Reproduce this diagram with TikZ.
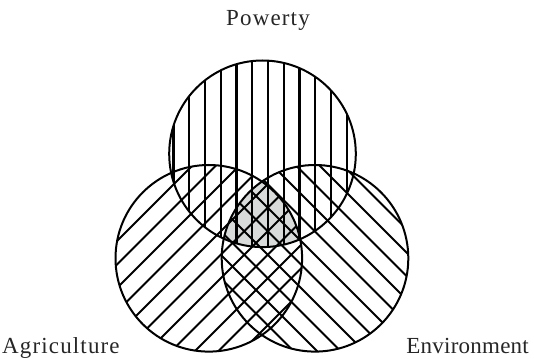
\documentclass[tikz,border=0pt]{standalone}
\usepackage{fontspec}
\setmainfont{Liberation Serif}
\newfontfamily\lblfontA[LetterSpace=5]{Liberation Serif}
\newfontfamily\lblfontE[LetterSpace=1]{Liberation Serif}
\newfontfamily\lblfontP[LetterSpace=5]{Liberation Serif}
\definecolor{coregray}{HTML}{D9DBDB}
\tikzset{
  ring/.style={draw=black, line width=2pt},
  hatchline/.style={draw=black, line width=2pt},
  vhatch/.style={draw=black, line width=2.4pt},
  lbl/.style={font=\fontsize{23}{27}\selectfont, inner sep=0pt, text=black!85}
}
\begin{document}
\begin{tikzpicture}[x=1pt,y=1pt]
\useasboundingbox (0,0) rectangle (534,358);
\def\R{93.3}
\coordinate (P) at (262.5,204.2);
\coordinate (A) at (208.8,99.7);
\coordinate (E) at (315,99.7);
% core
\begin{scope}
  \clip (P) circle (\R);
  \clip (A) circle (\R);
  \clip (E) circle (\R);
  \fill[coregray] (0,0) rectangle (534,358);
\end{scope}
% vertical hatch in Powerty
\begin{scope}
  \clip (P) circle (\R);
  \foreach \k in {0,...,11}
    \draw[vhatch] ({173.5+15.75*\k},100) -- ++(0,220);
\end{scope}
% "/" hatch in Agriculture
\begin{scope}
  \clip (A) circle (\R);
  \foreach \k in {-12,...,12}
    \draw[hatchline] (80,{80-47+23.5*\k}) -- (340,{340-47+23.5*\k});
\end{scope}
% "\" hatch in Environment
\begin{scope}
  \clip (E) circle (\R);
  \foreach \k in {-12,...,12}
    \draw[hatchline] (200,{465+23.5*\k-200}) -- (440,{465+23.5*\k-440});
\end{scope}
% outlines
\draw[ring] (P) circle (\R);
\draw[ring] (A) circle (\R);
\draw[ring] (E) circle (\R);
% labels
\node[lbl, anchor=base] (pov) at (268,332) {\lblfontP Powerty};
\node[lbl, anchor=base west] (agr) at (2,5) {\lblfontA Agriculture};
\node[lbl, anchor=base east] (env) at (529,5) {\lblfontE Environment};
\end{tikzpicture}
\end{document}
